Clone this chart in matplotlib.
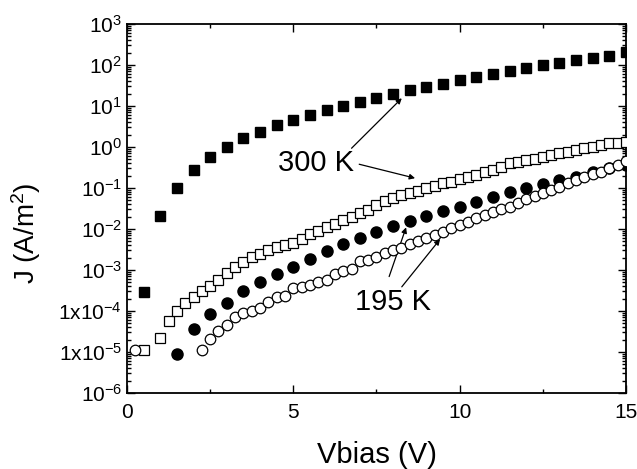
import numpy as np
import matplotlib
matplotlib.use("Agg")
import matplotlib.pyplot as plt
from matplotlib.ticker import FixedLocator, LogLocator, NullFormatter, MultipleLocator

plt.rcParams['font.family'] = ['Liberation Sans', 'DejaVu Sans']
plt.rcParams['mathtext.fontset'] = 'custom'
plt.rcParams['mathtext.rm'] = 'Liberation Sans'
plt.rcParams['mathtext.it'] = 'Liberation Sans:italic'
plt.rcParams['mathtext.bf'] = 'Liberation Sans:bold'

# ---- data (log10 of J in A/m^2) ----
v_filled_sq = [0.5, 1.0, 1.5, 2.0, 2.5, 3.0, 3.5, 4.0, 4.5, 5.0, 5.5, 6.0, 6.5, 7.0, 7.5,
               8.0, 8.5, 9.0, 9.5, 10.0, 10.5, 11.0, 11.5, 12.0, 12.5, 13.0, 13.5, 14.0, 14.5, 15.0]
logj_filled_sq = [-3.54, -1.68, -0.99, -0.56, -0.25, 0.01, 0.21, 0.37, 0.54, 0.66, 0.78, 0.90, 1.00, 1.105, 1.20,
                  1.29, 1.39, 1.46, 1.54, 1.63, 1.70, 1.78, 1.86, 1.92, 2.00, 2.06, 2.12, 2.18, 2.22, 2.32]

v_open_sq = [0.5, 1.0, 1.25, 1.5, 1.75, 2.0, 2.25, 2.5, 2.75, 3.0, 3.25, 3.5, 3.75, 4.0, 4.25, 4.5, 4.75,
             5.0, 5.25, 5.5, 5.75, 6.0, 6.25, 6.5, 6.75, 7.0, 7.25, 7.5, 7.75, 8.0, 8.25, 8.5, 8.75,
             9.0, 9.25, 9.5, 9.75, 10.0, 10.25, 10.5, 10.75, 11.0, 11.25, 11.5, 11.75, 12.0, 12.25,
             12.5, 12.75, 13.0, 13.25, 13.5, 13.75, 14.0, 14.25, 14.5, 14.75, 15.0]
logj_open_sq = [-4.95, -4.65, -4.24, -3.99, -3.81, -3.65, -3.52, -3.40, -3.25, -3.08, -2.93, -2.81, -2.68,
                -2.60, -2.51, -2.45, -2.39, -2.33, -2.25, -2.12, -2.05, -1.96, -1.87, -1.78, -1.70, -1.60,
                -1.54, -1.415, -1.31, -1.25, -1.17, -1.13, -1.07, -1.01, -0.94, -0.885, -0.85, -0.78,
                -0.74, -0.68, -0.62, -0.56, -0.48, -0.40, -0.36, -0.32, -0.29, -0.24, -0.195, -0.155,
                -0.115, -0.07, -0.03, 0.01, 0.05, 0.09, 0.105, 0.13]

v_filled_ci = [1.5, 2.0, 2.5, 3.0, 3.5, 4.0, 4.5, 5.0, 5.5, 6.0, 6.5, 7.0, 7.5, 8.0, 8.5, 9.0,
               9.5, 10.0, 10.5, 11.0, 11.5, 12.0, 12.5, 13.0, 13.5, 14.0, 14.5, 15.0]
logj_filled_ci = [-5.06, -4.45, -4.07, -3.81, -3.52, -3.30, -3.10, -2.92, -2.72, -2.54, -2.37, -2.23,
                  -2.07, -1.93, -1.80, -1.68, -1.55, -1.46, -1.33, -1.21, -1.09, -1.01, -0.91, -0.80,
                  -0.72, -0.62, -0.52, -0.44]

v_open_ci = [0.25, 2.25, 2.5, 2.75, 3.0, 3.25, 3.5, 3.75, 4.0, 4.25, 4.5, 4.75, 5.0, 5.25, 5.5, 5.75,
             6.0, 6.25, 6.5, 6.75, 7.0, 7.25, 7.5, 7.75, 8.0, 8.25, 8.5, 8.75, 9.0, 9.25, 9.5, 9.75,
             10.0, 10.25, 10.5, 10.75, 11.0, 11.25, 11.5, 11.75, 12.0, 12.25, 12.5, 12.75, 13.0,
             13.25, 13.5, 13.75, 14.0, 14.25, 14.5, 14.75, 15.0]
logj_open_ci = [-4.95, -4.95, -4.68, -4.49, -4.35, -4.15, -4.06, -3.99, -3.93, -3.77, -3.67, -3.63,
                -3.45, -3.41, -3.36, -3.30, -3.24, -3.09, -3.03, -2.98, -2.78, -2.75, -2.69, -2.58,
                -2.51, -2.46, -2.37, -2.285, -2.21, -2.15, -2.07, -1.98, -1.90, -1.82, -1.74, -1.66,
                -1.58, -1.52, -1.46, -1.36, -1.27, -1.195, -1.13, -1.05, -0.97, -0.885, -0.80, -0.72,
                -0.65, -0.60, -0.52, -0.44, -0.34]

ytick_vals = [1e-6, 1e-5, 1e-4, 1e-3, 1e-2, 1e-1, 1e0, 1e1, 1e2, 1e3]
ytick_labels = [r'$10^{-6}$', r'1x$10^{-5}$', r'1x$10^{-4}$', r'$10^{-3}$', r'$10^{-2}$',
                r'$10^{-1}$', r'$10^{0}$', r'$10^{1}$', r'$10^{2}$', r'$10^{3}$']
xtick_vals = [0, 5, 10, 15]
xtick_labels = ['0', '5', '10', '15']

fig = plt.figure(figsize=(6.37, 4.69), dpi=100)
ax = fig.add_axes([0.1994, 0.162, 0.7833, 0.7868])

ax.plot(v_filled_sq, 10 ** np.array(logj_filled_sq), 's', color='black', ms=7.8, mec='black', zorder=3)
ax.plot(v_open_sq, 10 ** np.array(logj_open_sq), 's', mfc='white', mec='black', ms=7.0, mew=0.9, zorder=3)
ax.plot(v_filled_ci, 10 ** np.array(logj_filled_ci), 'o', color='black', ms=8.0, zorder=4)
ax.plot(v_open_ci, 10 ** np.array(logj_open_ci), 'o', mfc='white', mec='black', ms=7.6, mew=0.9, zorder=5)

ax.set_yscale('log')
ax.set_xlim(0, 15)
ax.set_ylim(1e-6, 1e3)
ax.yaxis.set_major_locator(FixedLocator(ytick_vals))
ax.set_yticklabels(ytick_labels)
ax.yaxis.set_minor_locator(LogLocator(base=10, subs=np.arange(2, 10), numticks=20))
ax.yaxis.set_minor_formatter(NullFormatter())
ax.set_xticks(xtick_vals)
ax.set_xticklabels(xtick_labels)
ax.xaxis.set_minor_locator(MultipleLocator(2.5))

ax.tick_params(which='both', direction='in', top=True, right=True, labelsize=15, width=1.0)
ax.tick_params(which='major', length=6)
ax.tick_params(which='minor', length=3)
ax.tick_params(axis='x', pad=7)
for s in ax.spines.values():
    s.set_linewidth(1.3)

ax.set_xlabel('Vbias (V)', fontsize=21, labelpad=14)
ax.set_ylabel(r'J (A/m$^2$)', fontsize=20)
ax.yaxis.set_label_coords(-0.168, 0.434)

arrow = dict(arrowstyle='-|>', color='black', lw=0.9, mutation_scale=8, shrinkA=0, shrinkB=0)
ax.text(5.68, 10 ** -0.39, '300 K', fontsize=21, ha='center', va='center')
ax.annotate('', xy=(8.26, 10 ** 1.19), xytext=(6.75, 10 ** -0.03), arrowprops=arrow)
ax.annotate('', xy=(8.66, 10 ** -0.76), xytext=(6.98, 10 ** -0.42), arrowprops=arrow)
ax.text(8.0, 10 ** -3.78, '195 K', fontsize=21, ha='center', va='center')
ax.annotate('', xy=(8.39, 10 ** -1.96), xytext=(7.88, 10 ** -3.16), arrowprops=arrow)
ax.annotate('', xy=(9.41, 10 ** -2.25), xytext=(8.26, 10 ** -3.41), arrowprops=arrow)

fig.savefig('out.png', dpi=100)
